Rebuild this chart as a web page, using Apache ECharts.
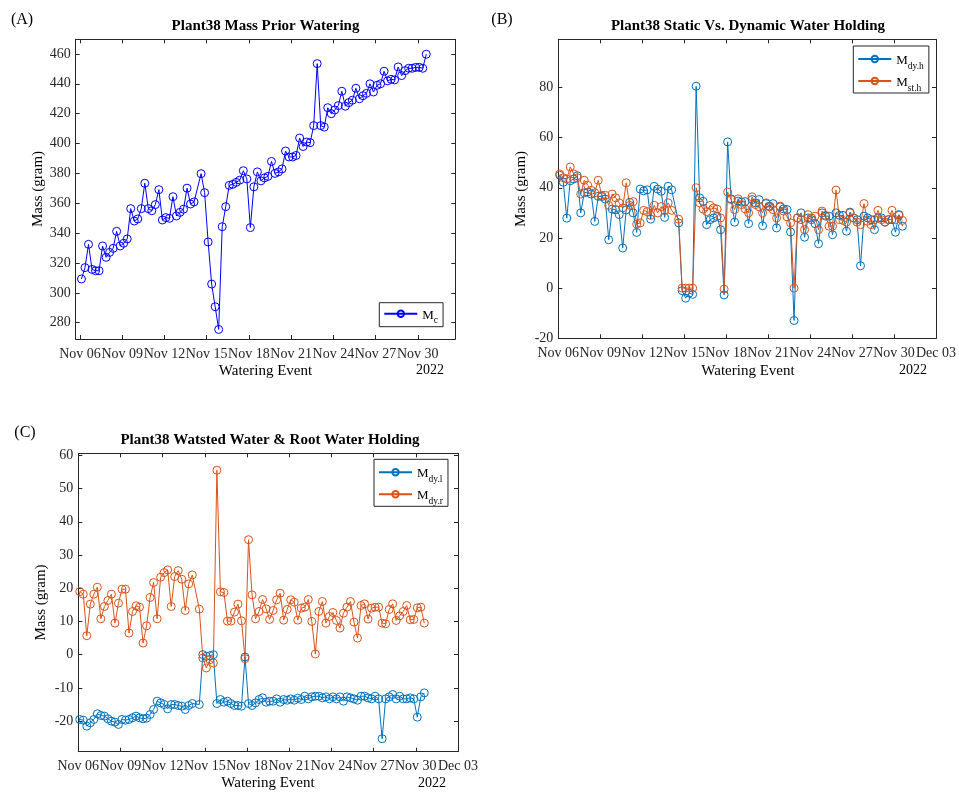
<!DOCTYPE html>
<html>
<head>
<meta charset="utf-8">
<script src="https://cdn.jsdelivr.net/npm/echarts@6/dist/echarts.min.js"></script>
<style>
  html, body { margin: 0; padding: 0; background: #fff; }
  #chart { width: 959px; height: 792px; }
</style>
</head>
<body>
<div id="chart"></div>
<script>
// Watering events (2022, month-day hour:minute)
const eventTimes = [
  '11-06 02:30','11-06 08:30','11-06 14:30','11-06 20:30',
  '11-07 02:30','11-07 08:30','11-07 14:30','11-07 20:30',
  '11-08 02:30','11-08 08:30','11-08 14:30','11-08 20:30',
  '11-09 02:30','11-09 08:30','11-09 14:30','11-09 20:30',
  '11-10 02:30','11-10 08:30','11-10 14:30','11-10 20:30',
  '11-11 02:30','11-11 08:30','11-11 14:30','11-11 20:30',
  '11-12 02:30','11-12 08:30','11-12 14:30','11-12 20:30',
  '11-13 02:30','11-13 08:30','11-13 14:30','11-13 20:30',
  '11-14 02:30','11-14 14:30','11-14 20:30',
  '11-15 02:30','11-15 08:30','11-15 14:30','11-15 20:30',
  '11-16 02:30','11-16 08:30','11-16 14:30','11-16 20:30',
  '11-17 02:30','11-17 08:30','11-17 14:30','11-17 20:30',
  '11-18 02:30','11-18 08:30','11-18 14:30','11-18 20:30',
  '11-19 02:30','11-19 08:30','11-19 14:30','11-19 20:30',
  '11-20 02:30','11-20 08:30','11-20 14:30','11-20 20:30',
  '11-21 02:30','11-21 08:30','11-21 14:30','11-21 20:30',
  '11-22 02:30','11-22 08:30','11-22 14:30','11-22 20:30',
  '11-23 02:30','11-23 08:30','11-23 14:30','11-23 20:30',
  '11-24 02:30','11-24 08:30','11-24 14:30','11-24 20:30',
  '11-25 02:30','11-25 08:30','11-25 14:30','11-25 20:30',
  '11-26 02:30','11-26 08:30','11-26 14:30','11-26 20:30',
  '11-27 02:30','11-27 08:30','11-27 14:30','11-27 20:30',
  '11-28 02:30','11-28 08:30','11-28 14:30','11-28 20:30',
  '11-29 02:30','11-29 08:30','11-29 14:30','11-29 20:30',
  '11-30 02:30','11-30 08:30','11-30 14:30'
];

// (A) plant mass before each watering, gram
const massPrior = [
  309.3,316.9,332.5,315.7,
  314.8,314.8,331.4,323.8,
  327.1,329.8,341.2,331.4,
  333.2,336.1,356.4,348.1,
  349.5,356.4,373.4,356.4,
  355.0,359.1,369.1,348.8,
  350.4,349.9,364.4,351.5,
  353.9,356.0,370.1,359.5,
  360.9,379.8,367.1,
  334.1,305.9,290.7,275.5,
  344.3,357.7,372.0,372.7,
  374.0,375.5,381.8,376.3,
  343.7,371.0,381.0,375.0,
  377.0,378.0,388.0,380.0,
  381.0,383.0,395.0,391.0,
  391.0,392.0,403.7,398.0,
  401.0,400.6,412.0,453.5,
  412.0,411.0,424.0,420.0,
  422.5,425.4,435.0,425.0,
  427.4,429.0,437.0,430.0,
  432.0,433.6,440.0,434.5,
  439.0,440.0,448.4,442.0,
  443.0,442.6,451.3,445.5,
  448.8,450.4,450.4,451.0,
  451.0,450.4,459.8
];

// (B) dynamic water holding M_dy.h, gram
const dynHolding = [
  45.0,42.2,27.9,42.8,
  43.5,44.8,30.0,38.0,
  38.3,37.5,26.6,36.6,
  36.5,35.5,19.3,31.5,
  31.2,29.3,16.0,31.2,
  34.2,30.0,22.2,39.5,
  38.8,39.2,27.5,40.6,
  39.5,38.6,28.2,40.6,
  39.2,26.0,-1.0,
  -4.0,-2.0,-2.5,80.5,
  36.0,34.6,25.3,27.3,
  28.0,28.6,23.3,-2.7,
  58.3,35.6,26.3,34.7,
  34.3,34.5,25.7,35.3,
  34.0,35.3,24.9,33.7,
  32.7,33.7,24.0,32.4,
  31.6,31.3,22.4,-12.9,
  28.0,30.0,20.3,28.0,
  27.3,25.7,17.7,30.0,
  28.7,28.7,21.3,30.0,
  29.0,29.0,22.7,30.3,
  28.0,27.3,8.9,28.7,
  28.0,27.3,23.3,28.0,
  28.0,26.3,27.3,27.3,
  22.3,29.3,24.7
];

// (B) static water holding M_st.h, gram
const staticHolding = [
  45.5,44.0,43.5,48.3,
  45.5,44.0,37.5,43.0,
  41.0,39.0,38.0,43.0,
  37.0,37.0,33.0,37.5,
  36.0,34.0,32.0,42.0,
  33.0,34.5,25.5,26.0,
  31.0,30.5,29.0,33.0,
  30.0,32.5,31.0,34.0,
  31.0,27.5,0.0,
  0.0,0.0,0.0,40.0,
  34.0,31.5,30.5,33.0,
  32.0,31.5,28.0,-0.4,
  38.3,35.3,31.3,35.6,
  33.3,31.6,30.0,36.4,
  33.3,32.4,30.0,34.0,
  32.4,31.3,28.0,32.7,
  30.7,28.4,26.0,0.0,
  28.0,27.3,23.3,29.3,
  28.0,28.7,23.3,30.7,
  29.0,24.7,24.7,39.1,
  27.3,27.0,26.3,30.0,
  28.0,26.3,25.3,33.7,
  26.7,25.3,27.3,31.0,
  27.3,26.3,27.3,31.0,
  27.3,29.0,27.0
];

// (C) wasted water M_dy.l, gram
const wastedWater = [
  -19.5,-19.7,-21.5,-20.5,
  -19.5,-17.8,-18.3,-18.5,
  -19.3,-20.0,-20.3,-21.0,
  -19.5,-19.7,-19.5,-19.0,
  -18.5,-19.0,-19.3,-19.1,
  -18.0,-16.5,-14.0,-14.5,
  -15.0,-16.3,-15.0,-15.0,
  -15.3,-15.5,-16.5,-15.3,
  -14.7,-15.0,0.0,
  -0.5,-0.3,0.0,-14.7,
  -13.5,-14.3,-14.0,-14.7,
  -15.3,-15.3,-15.5,-0.7,
  -14.7,-15.3,-14.5,-13.5,
  -13.0,-14.3,-14.0,-14.0,
  -13.3,-14.3,-13.5,-13.7,
  -13.3,-13.7,-13.1,-13.5,
  -12.5,-13.3,-12.7,-12.5,
  -12.5,-13.0,-12.7,-13.3,
  -12.7,-13.3,-12.7,-14.0,
  -12.7,-13.0,-13.3,-13.7,
  -12.5,-12.5,-13.0,-13.3,
  -12.5,-13.3,-25.3,-13.3,
  -12.7,-12.0,-13.3,-12.5,
  -13.3,-13.3,-13.0,-13.3,
  -18.8,-12.7,-11.5
];

// (C) root water holding M_dy.r, gram
const rootWater = [
  19.0,18.2,5.7,15.2,
  18.2,20.3,10.8,14.5,
  16.3,18.2,9.5,15.5,
  19.7,19.7,6.5,13.0,
  14.7,14.3,3.5,8.7,
  17.2,21.7,10.8,23.3,
  24.7,25.5,14.5,23.5,
  25.3,22.7,13.3,21.3,
  24.0,13.7,-1.0,
  -4.0,-1.5,-2.5,55.5,
  18.9,18.7,10.1,10.1,
  12.8,15.2,10.2,-1.2,
  34.6,18.0,10.8,13.0,
  16.6,13.8,10.6,13.3,
  16.5,18.5,10.4,13.6,
  16.5,15.8,10.4,14.0,
  14.3,16.6,10.0,0.2,
  13.0,16.0,9.5,11.5,
  12.7,10.3,8.0,12.5,
  14.3,16.0,9.8,5.0,
  14.8,15.3,10.7,14.0,
  14.3,14.3,9.5,9.3,
  13.6,15.3,10.3,11.7,
  13.0,14.8,10.5,10.6,
  14.1,14.3,9.5
];

// Axis ticks and limits
const tickDatesA = ['11-06','11-09','11-12','11-15','11-18','11-21','11-24','11-27','11-30'];
const tickDatesBC = ['11-06','11-09','11-12','11-15','11-18','11-21','11-24','11-27','11-30','12-03'];
const xRangeA = ['11-05 16:40', '12-02 16:00'];
const xRangeBC = ['11-06 00:00', '12-03 00:00'];
const yTicksA = [280, 300, 320, 340, 360, 380, 400, 420, 440, 460];
const yTicksB = [-20, 0, 20, 40, 60, 80];
const yTicksC = [-20, -10, 0, 10, 20, 30, 40, 50, 60];
const yRangeA = [269.1, 469.8];
const yRangeB = [-20, 99.2];
const yRangeC = [-29.2, 60.6];

const MONTHS = ['Jan','Feb','Mar','Apr','May','Jun','Jul','Aug','Sep','Oct','Nov','Dec'];
const FONT = '"Liberation Serif", "Times New Roman", serif';
const AXIS_COLOR = '#262626';
const BLUE = '#0072BD';
const ORANGE = '#D95319';

function toMs(s) {
  const [md, hm] = s.split(' ');
  const [mo, d] = md.split('-').map(Number);
  const [h, mi] = (hm || '00:00').split(':').map(Number);
  return Date.UTC(2022, mo - 1, d, h, mi);
}
function dateLabel(v) {
  const dt = new Date(v);
  return MONTHS[dt.getUTCMonth()] + ' ' + String(dt.getUTCDate()).padStart(2, '0');
}
const times = eventTimes.map(toMs);
const pairs = vals => times.map((t, i) => [t, vals[i]]);

const panels = [
  { grid: { left: 75.7, top: 39.3, width: 379.6, height: 299.7 }, xr: xRangeA, xt: tickDatesA, yr: yRangeA, yt: yTicksA },
  { grid: { left: 558.3, top: 39.3, width: 379.7, height: 299.0 }, xr: xRangeBC, xt: tickDatesBC, yr: yRangeB, yt: yTicksB },
  { grid: { left: 78.3, top: 453.3, width: 379.7, height: 298.4 }, xr: xRangeBC, xt: tickDatesBC, yr: yRangeC, yt: yTicksC }
];

const lineStyleAxis = { color: AXIS_COLOR, width: 1 };
const labelStyle = { fontFamily: FONT, fontSize: 14, color: AXIS_COLOR };

const grids = [], xAxes = [], yAxes = [];
panels.forEach((p, i) => {
  grids.push(Object.assign({ containLabel: false }, p.grid));
  const xt = p.xt.map(toMs);
  const base = { type: 'value', gridIndex: i, splitLine: { show: false } };
  xAxes.push(Object.assign({}, base, {
    position: 'bottom', min: toMs(p.xr[0]), max: toMs(p.xr[1]),
    axisLine: { show: true, onZero: false, lineStyle: lineStyleAxis },
    axisTick: { show: true, inside: true, length: 4, customValues: xt, lineStyle: lineStyleAxis },
    axisLabel: Object.assign({ customValues: xt, formatter: dateLabel, margin: 8 }, labelStyle)
  }));
  xAxes.push(Object.assign({}, base, {
    position: 'top', min: toMs(p.xr[0]), max: toMs(p.xr[1]),
    axisLine: { show: true, onZero: false, lineStyle: lineStyleAxis },
    axisTick: { show: true, inside: true, length: 4, customValues: xt, lineStyle: lineStyleAxis },
    axisLabel: { show: false }
  }));
  yAxes.push(Object.assign({}, base, {
    position: 'left', min: p.yr[0], max: p.yr[1],
    axisLine: { show: true, onZero: false, lineStyle: lineStyleAxis },
    axisTick: { show: true, inside: true, length: 4, customValues: p.yt, lineStyle: lineStyleAxis },
    axisLabel: Object.assign({ customValues: p.yt, margin: 5 }, labelStyle)
  }));
  yAxes.push(Object.assign({}, base, {
    position: 'right', min: p.yr[0], max: p.yr[1],
    axisLine: { show: true, onZero: false, lineStyle: lineStyleAxis },
    axisTick: { show: true, inside: true, length: 4, customValues: p.yt, lineStyle: lineStyleAxis },
    axisLabel: { show: false }
  }));
});

function lineSeries(name, panel, vals, color) {
  return {
    name, type: 'line', xAxisIndex: panel * 2, yAxisIndex: panel * 2,
    data: pairs(vals), color,
    symbol: 'circle', symbolSize: 8, showSymbol: true, showAllSymbol: true,
    lineStyle: { color, width: 1 },
    itemStyle: { color: 'rgba(255,255,255,0)', borderColor: color, borderWidth: 1 },
    emphasis: { disabled: true }, animation: false
  };
}

// Legend labels: "M" with a subscript
const legendText = {
  fontFamily: FONT, color: '#000',
  rich: {
    m: { fontFamily: FONT, fontSize: 13, lineHeight: 14, padding: [2, 0, 2, 0], verticalAlign: 'top', color: '#000' },
    s: { fontFamily: FONT, fontSize: 9.5, lineHeight: 9, padding: [9, 0, 0, 0], verticalAlign: 'top', color: '#000' }
  }
};
function legend(names, left, top, pad, gap) {
  return {
    data: names, orient: 'vertical', left, top,
    padding: pad, itemGap: gap, itemWidth: 33, itemHeight: 8,
    borderColor: AXIS_COLOR, borderWidth: 1, backgroundColor: '#fff',
    selectedMode: false,
    formatter: n => '{m|M}{s|' + n.slice(1) + '}',
    textStyle: legendText
  };
}

function text(str, x, y, font, opts) {
  return Object.assign({
    type: 'text', x, y,
    style: { text: str, font, fill: '#000', align: 'center', verticalAlign: 'middle' }
  }, opts || {});
}
const titleFont = 'bold 15px ' + FONT;
const nameFont = '15px ' + FONT;
const tagFont = '16px ' + FONT;

const graphics = [
  text('(A)', 22, 20, tagFont),
  text('(B)', 502, 20, tagFont),
  text('(C)', 25, 433, tagFont),
  text('Plant38 Mass Prior Watering', 265.5, 26, titleFont),
  text('Plant38 Static Vs. Dynamic Water Holding', 748, 26, titleFont),
  text('Plant38 Watsted Water & Root Water Holding', 270, 440, titleFont),
  text('Watering Event', 265.5, 371, nameFont),
  text('Watering Event', 748, 371, nameFont),
  text('Watering Event', 268, 783, nameFont),
  text('2022', 430, 370, '14px ' + FONT),
  text('2022', 913, 370, '14px ' + FONT),
  text('2022', 432, 783, '14px ' + FONT),
  text('Mass (gram)', 38.5, 189, nameFont, { rotation: Math.PI / 2 }),
  text('Mass (gram)', 521.5, 189, nameFont, { rotation: Math.PI / 2 }),
  text('Mass (gram)', 41.5, 602.5, nameFont, { rotation: Math.PI / 2 })
];

const chart = echarts.init(document.getElementById('chart'), null, { renderer: 'canvas' });
chart.setOption({
  backgroundColor: '#fff',
  animation: false,
  grid: grids,
  xAxis: xAxes,
  yAxis: yAxes,
  legend: [
    legend(['Mc'], 379.3, 302.7, [4, 5, 1, 4], 4),
    legend(['Mdy.h', 'Mst.h'], 853.3, 46, [6, 5, 0, 4], 3),
    legend(['Mdy.l', 'Mdy.r'], 374, 459.3, [6, 5, 0, 4], 3)
  ],
  series: [
    lineSeries('Mc', 0, massPrior, '#0000FF'),
    lineSeries('Mdy.h', 1, dynHolding, BLUE),
    lineSeries('Mst.h', 1, staticHolding, ORANGE),
    lineSeries('Mdy.l', 2, wastedWater, BLUE),
    lineSeries('Mdy.r', 2, rootWater, ORANGE)
  ],
  graphic: graphics
});
</script>
</body>
</html>
